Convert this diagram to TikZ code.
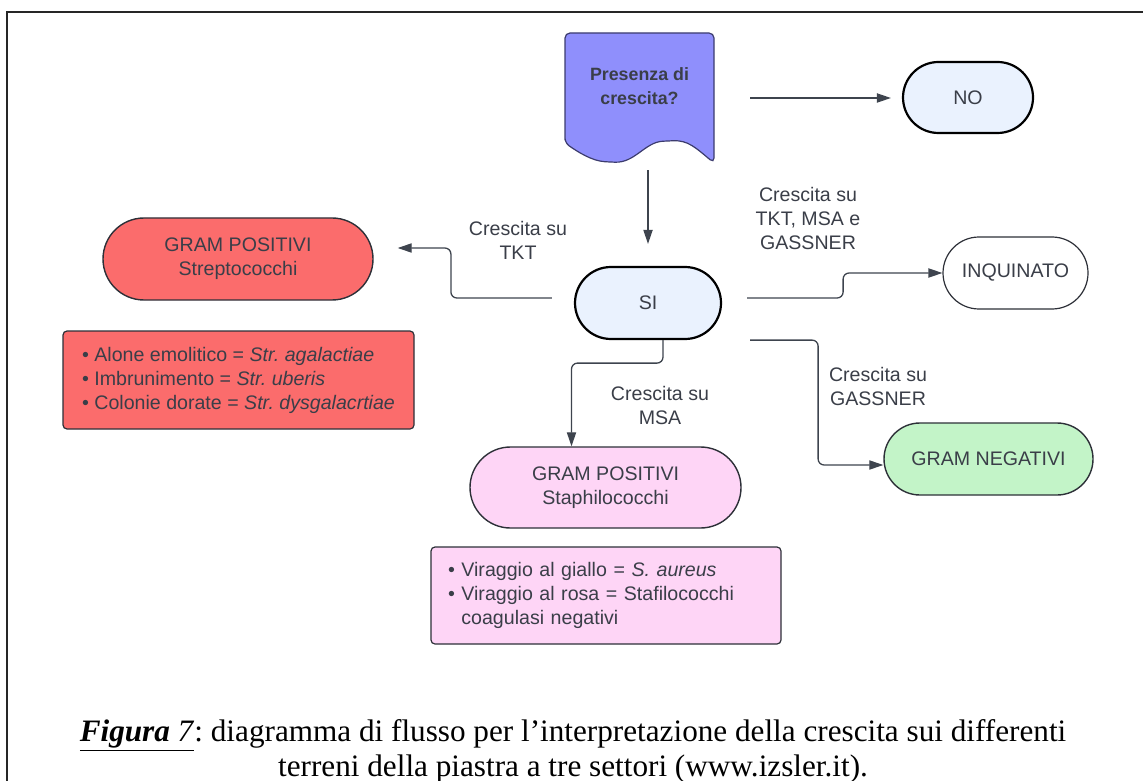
\documentclass[tikz,border=0pt]{standalone}
\usepackage{fontspec}
\setmainfont{Liberation Sans}
\newfontfamily\capfont{Liberation Serif}
\usetikzlibrary{arrows.meta,positioning,calc}
\definecolor{docblue}{RGB}{143,143,252}
\definecolor{docedge}{RGB}{60,60,110}
\definecolor{pillblue}{RGB}{234,242,254}
\definecolor{strepred}{RGB}{251,108,108}
\definecolor{staphpink}{RGB}{254,213,246}
\definecolor{gnegreen}{RGB}{195,244,200}
\definecolor{txtgray}{RGB}{58,62,72}
\definecolor{arrgray}{RGB}{62,68,78}
\definecolor{edgegray}{RGB}{45,48,56}
\newcommand{\dgfont}{\fontsize{9.8}{12}\selectfont}
\frenchspacing
\tikzset{
  pill/.style={rectangle,rounded corners=18pt,draw=edgegray,line width=0.7pt,fill=#1,
               text=txtgray,font=\dgfont,align=center,minimum height=36pt},
  pill/.default=white,
  notebox/.style={rectangle,rounded corners=2pt,draw=edgegray,line width=0.6pt,
                  fill=#1,text=txtgray,font=\dgfont,align=left,inner xsep=9pt},
  arr/.style={-{Triangle[length=7pt,width=4.6pt]},line width=0.65pt,arrgray,
              rounded corners=3pt},
  lbl/.style={text=txtgray,font=\dgfont,align=center},
}

\begin{document}
\begin{tikzpicture}[x=0.5pt,y=-0.5pt]
  \useasboundingbox (0,0) rectangle (1143,780);
  \draw[line width=1pt,black!85] (7,800) -- (7,12.5) -- (1160,12.5);

  % document shape
  \node[minimum width=74.5pt,minimum height=65pt,inner sep=0pt] (dom) at (639.5,98) {};
  \filldraw[fill=docblue,draw=docedge,line width=0.6pt,rounded corners=2.5pt]
    (565,143) -- (565,33) -- (714,33) -- (714,163)
    .. controls (696,148) and (688,140) .. (668,141)
    .. controls (645,142) and (635,163) .. (610,162)
    .. controls (592,161) and (578,152) .. (565,143) -- cycle;
  \node[text=txtgray,font=\fontsize{8.9}{12}\selectfont\bfseries,align=center]
    (domtxt) at (639.5,86) {Presenza di\\crescita?};

  \node[pill=pillblue,draw=black,line width=1.1pt,minimum width=65pt,minimum height=35.5pt,
        rounded corners=17.75pt] (no) at (968,97.5) {NO};
  \node[pill=pillblue,draw=black,line width=1.1pt,minimum width=73pt] (si) at (648,303) {SI};
  \node[pill=strepred,minimum width=135pt,minimum height=41pt,rounded corners=20.5pt]
    (strep) at (238,259) {GRAM POSITIVI\\Streptococchi};
  \node[pill,line width=0.6pt,minimum width=72.5pt] (inq) at (1015.5,273) {INQUINATO};
  \node[pill=gnegreen,minimum width=104.5pt] (gn) at (988.5,459) {GRAM NEGATIVI};
  \node[pill=staphpink,minimum width=135.5pt,minimum height=40.5pt,rounded corners=20.25pt]
    (staph) at (605.5,487.5) {GRAM POSITIVI\\Staphilococchi};

  \node[notebox=strepred,minimum width=175.5pt,minimum height=49pt]
    (strepnote) at (238.5,380)
    {• Alone emolitico = \textit{Str. agalactiae}\\
     • Imbrunimento = \textit{Str. uberis}\\
     • Colonie dorate = \textit{Str. dysgalacrtiae}};
  \node[notebox=staphpink,inner xsep=8.5pt,text width=158pt,minimum height=48.5pt]
    (staphnote) at (606,595.5)
    {• Viraggio al giallo = \textit{S. aureus}\\
     • Viraggio al rosa = Stafilococchi\\
     \phantom{• }coagulasi negativi};

  \node[lbl] (ltkt) at (518,240) {Crescita su\\TKT};
  \node[lbl] (lall) at (808,218) {Crescita su\\TKT, MSA e\\GASSNER};
  \node[lbl] (lgas) at (878,386.5) {Crescita su\\GASSNER};
  \node[lbl] (lmsa) at (660,405) {Crescita su\\MSA};

  \draw[arr,shorten <=18pt,shorten >=5.5pt] (dom.east) -- (dom.east -| no.west);
  \draw[arr,shorten <=3.5pt,shorten >=11pt] (si.north |- dom.south) -- (si.north);
  \draw[arr,shorten <=11pt,shorten >=12pt]
    ([yshift=2.5pt]si.west) -- ++(-123,0) |- ([yshift=5.5pt]strep.east);
  \draw[arr,shorten <=12.5pt] ([yshift=2.5pt]si.east) -- ++(121,0) |- (inq.west);
  \draw[arr,shorten <=14pt] (si.east |- si.south) -- ++(96,0) |- ([yshift=-3pt]gn.west);
  \draw[arr] ([xshift=7.5pt]si.south) -- ++(0,23) -| ([xshift=-17pt]staph.north);

  \node[font=\capfont\fontsize{15.6}{17.5}\selectfont,align=center] (cap) at (573,751)
    {\underline{\textbf{\textit{Figura}} \textit{7}}: diagramma di flusso per
     l’interpretazione della crescita sui differenti\\
     terreni della piastra a tre settori (www.izsler.it).};
\end{tikzpicture}
\end{document}
